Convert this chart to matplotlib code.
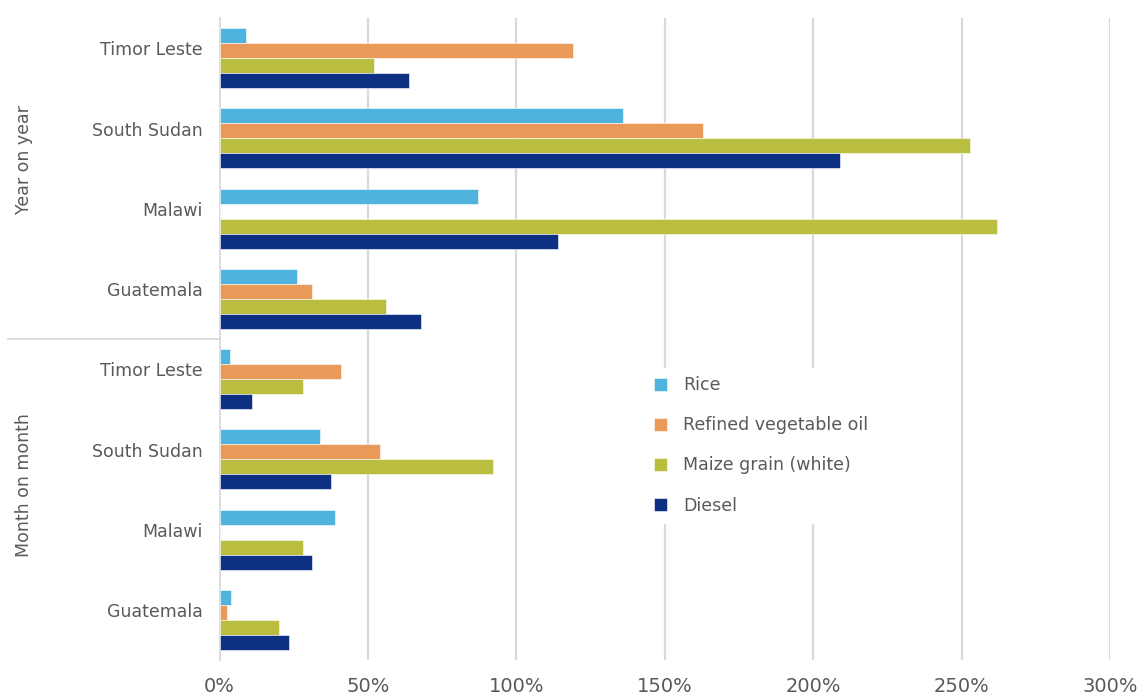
import matplotlib
matplotlib.use("Agg")
import matplotlib.pyplot as plt
import numpy as np
from matplotlib.lines import Line2D

countries = ["Timor Leste", "South Sudan", "Malawi", "Guatemala"]
groups = ["Year on year", "Month on month"]
series = ["Rice", "Refined vegetable oil", "Maize grain (white)", "Diesel"]
colors = ["#4FB3DE", "#E99A58", "#B9BD40", "#0D3082"]

# values in percent, order: countries (Timor Leste, South Sudan, Malawi, Guatemala)
yoy_rice = [9, 136, 87, 26]
yoy_oil = [119, 163, 0, 31]
yoy_maize = [52, 253, 262, 56]
yoy_diesel = [64, 209, 114, 68]

mom_rice = [3.5, 34, 39, 4]
mom_oil = [41, 54, 0, 2.5]
mom_maize = [28, 92, 28, 20]
mom_diesel = [11, 37.5, 31, 23.5]

xticks = [0, 50, 100, 150, 200, 250, 300]
xticklabels = ["0%", "50%", "100%", "150%", "200%", "250%", "300%"]

data = [yoy_rice + mom_rice, yoy_oil + mom_oil, yoy_maize + mom_maize, yoy_diesel + mom_diesel]
labels = countries + countries

W, H = 1146, 700
fig = plt.figure(figsize=(W / 100, H / 100), dpi=100)
ax = fig.add_axes([219.5 / W, 1 - 660 / H, 890.5 / W, 642 / H])

txt = "#595959"
n = len(labels)
y = np.arange(n)
bh = 15 / 80.25
for i, (vals, c, name) in enumerate(zip(data, colors, series)):
    offs = (i - 1.5) * bh
    ax.barh(y + offs, vals, height=bh, color=c, edgecolor="white", linewidth=0.4, label=name, zorder=3)

ax.set_ylim(n - 0.5, -0.5)
ax.set_xlim(0, 300)
ax.set_xticks(xticks)
ax.set_xticklabels(xticklabels, fontsize=14, color=txt)
ax.set_yticks(y - 0.12)
ax.set_yticklabels(labels, fontsize=12.5, color=txt)
ax.tick_params(axis="both", length=0)
ax.tick_params(axis="y", pad=12)
ax.tick_params(axis="x", pad=12)
for s in ["top", "right", "bottom"]:
    ax.spines[s].set_visible(False)
ax.spines["left"].set_color("#d9d9d9")
ax.spines["left"].set_linewidth(1.3)
for xv in xticks[1:]:
    ax.axvline(xv, color="#d9d9d9", linewidth=1.6, zorder=1)

# group separator and group labels
fig.add_artist(Line2D([8 / W, 219.5 / W], [1 - 339 / H, 1 - 339 / H], color="#d9d9d9", linewidth=1.3))
fig.text(24 / W, 1 - 160 / H, groups[0], rotation=90, ha="center", va="center", fontsize=12.5, color=txt)
fig.text(24 / W, 1 - 485 / H, groups[1], rotation=90, ha="center", va="center", fontsize=12.5, color=txt)

leg = ax.legend(loc="upper left", bbox_to_anchor=(637 / W, 1 - 359 / H), bbox_transform=fig.transFigure,
                frameon=True, fancybox=False, facecolor="white", edgecolor="white", framealpha=1,
                handlelength=0.75, handleheight=0.75, handletextpad=0.9, labelspacing=1.27,
                fontsize=12.5, borderpad=0.5)
for t in leg.get_texts():
    t.set_color(txt)
leg.set_zorder(5)

fig.savefig("out.png", dpi=100, facecolor="white")
